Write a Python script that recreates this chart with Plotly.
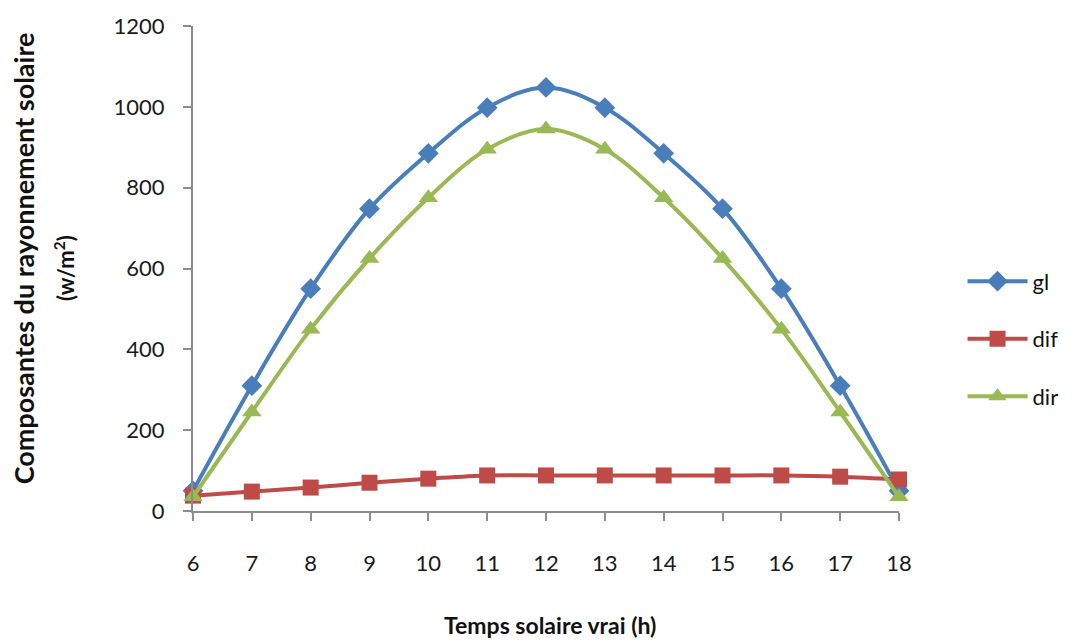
import plotly.graph_objects as go

hours = [6, 7, 8, 9, 10, 11, 12, 13, 14, 15, 16, 17, 18]
gl = [50, 310, 550, 748, 885, 998, 1048, 998, 885, 748, 550, 310, 50]
dif = [38, 48, 58, 70, 80, 88, 88, 88, 88, 88, 88, 85, 78]
dir_ = [35, 245, 450, 625, 775, 895, 945, 895, 775, 625, 450, 245, 35]
tick_vals_y = [0, 200, 400, 600, 800, 1000, 1200]

FONT = "Lato"
fig = go.Figure()
fig.add_trace(go.Scatter(x=hours, y=gl, name="gl", mode="lines+markers", legendgroup="a",
                         line=dict(color="#4A7EBB", width=4, shape="spline"),
                         marker=dict(symbol="diamond", size=16, color="#4A7EBB"),
                         cliponaxis=False))
fig.add_trace(go.Scatter(x=hours, y=dif, name="dif", mode="lines+markers", legendgroup="b",
                         line=dict(color="#BE4B48", width=4, shape="spline"),
                         marker=dict(symbol="square", size=16, color="#BE4B48"),
                         cliponaxis=False))
fig.add_trace(go.Scatter(x=hours, y=dir_, name="dir", mode="lines+markers", legendgroup="c",
                         line=dict(color="#98B954", width=4, shape="spline"),
                         marker=dict(symbol="triangle-up", size=17, color="#98B954"),
                         cliponaxis=False))

fig.update_layout(
    width=1075, height=644,
    margin=dict(l=193, r=175, t=22, b=133),
    paper_bgcolor="white", plot_bgcolor="white",
    font=dict(family=FONT, size=22, color="#222222"),
    showlegend=True,
    legend=dict(x=1.09, y=0.355, xanchor="left", yanchor="middle",
                font=dict(family=FONT, size=22, color="#111111"),
                itemwidth=60, tracegroupgap=26, bgcolor="rgba(0,0,0,0)"),
    xaxis=dict(range=[6, 18], tickvals=hours, showgrid=False, zeroline=False,
               showline=True, linecolor="#8c8c8c", linewidth=2,
               ticks="outside", ticklen=8, tickcolor="#8c8c8c", tickwidth=2,
               tickfont=dict(family=FONT, size=22, color="#1a1a1a"), ticklabelstandoff=24),
    yaxis=dict(range=[0, 1200], tickvals=tick_vals_y, showgrid=False, zeroline=False,
               showline=True, linecolor="#8c8c8c", linewidth=2,
               ticks="outside", ticklen=8, tickcolor="#8c8c8c", tickwidth=2,
               tickfont=dict(family=FONT, size=22, color="#1a1a1a"), ticklabelstandoff=14),
    annotations=[
        dict(text="<b>Temps solaire vrai (h)</b>", xref="paper", yref="paper",
             x=0.505, y=-0.235, xanchor="center", yanchor="middle", showarrow=False,
             font=dict(family=FONT, size=23, color="#111111")),
        dict(text="<b>Composantes du rayonnement solaire</b>", xref="paper", yref="paper",
             x=-0.24, y=0.52, xanchor="center", yanchor="middle", showarrow=False,
             textangle=-90, font=dict(family=FONT, size=27, color="#111111")),
        dict(text="<b>(w/m<sup>2</sup>)</b>", xref="paper", yref="paper",
             x=-0.182, y=0.5, xanchor="center", yanchor="middle", showarrow=False,
             textangle=-90, font=dict(family=FONT, size=22, color="#111111")),
    ],
)

fig.write_html("out.html")
